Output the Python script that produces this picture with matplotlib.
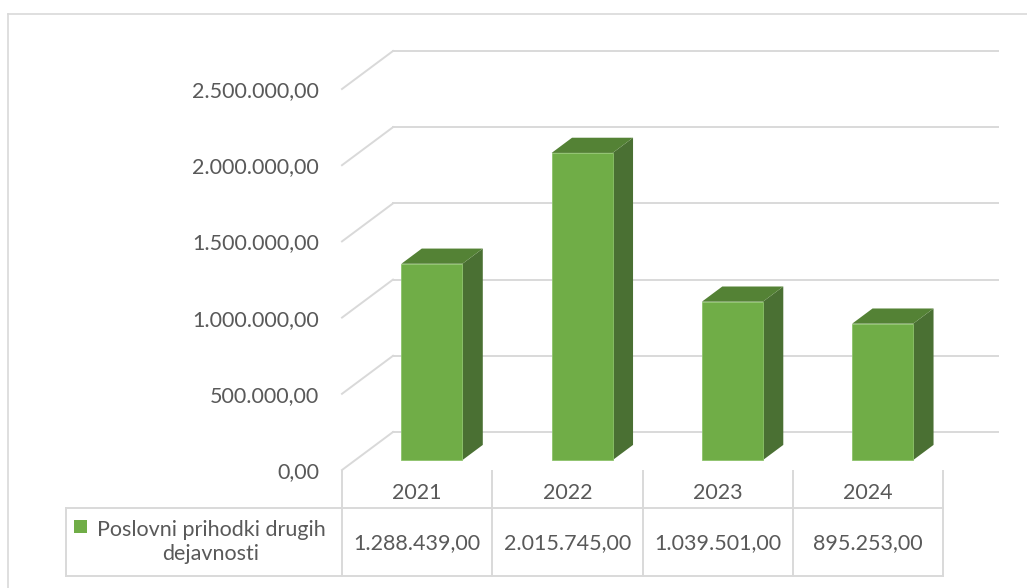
import matplotlib

matplotlib.use("Agg")
import matplotlib.pyplot as plt
import matplotlib.transforms as mtransforms
from matplotlib.patches import Polygon, Rectangle

years = ["2021", "2022", "2023", "2024"]
values = [1288439.00, 2015745.00, 1039501.00, 895253.00]
value_labels = ["1.288.439,00", "2.015.745,00", "1.039.501,00", "895.253,00"]
series_name = "Poslovni prihodki drugih\ndejavnosti"
yticks = [0, 500000, 1000000, 1500000, 2000000, 2500000]
ytick_labels = ["0,00", "500.000,00", "1.000.000,00", "1.500.000,00",
                "2.000.000,00", "2.500.000,00"]

W, H, DPI = 1027, 588, 100
GRID = "#d9d9d9"
TXT = "#595959"
C_FRONT = "#70ad47"
C_SIDE = "#4a7033"
C_TOP = "#548235"
DEPTH = (51, 38)          # floor depth in pixels (right, up)
BAR_T0, BAR_T1 = 0.26, 0.66
BAR_W = 0.406
FS = 15.5

plt.rcParams["font.family"] = ["Lato", "DejaVu Sans"]

fig = plt.figure(figsize=(W / DPI, H / DPI), dpi=DPI)
x0, x1, yb, yt = 342, 943, 470, 89
ax = fig.add_axes([x0 / W, (H - yb) / H, (x1 - x0) / W, (yb - yt) / H])
ax.set_xlim(-0.5, len(years) - 0.5)
ax.set_ylim(0, 2500000)
ax.patch.set_visible(False)
for s in ax.spines.values():
    s.set_visible(False)
ax.set_xticks([])
ax.set_yticks(yticks, ytick_labels)
ax.tick_params(axis="y", length=0, pad=16.5, labelsize=FS, labelcolor=TXT)

ident = mtransforms.IdentityTransform()
pix = mtransforms.Affine2D().scale(1, -1).translate(0, H)   # top-down pixels
xpix = mtransforms.blended_transform_factory(ax.transData, pix)


def P(x, y, t):
    px, py = ax.transData.transform((x, y))
    return (px + t * DEPTH[0], py + t * DEPTH[1])


# back wall gridlines + floor/side diagonals
xl, xr = -0.5, len(years) - 0.5
for v in yticks:
    a, b = P(xl, v, 0), P(xl, v, 1)
    c = P(xr, v, 1)
    fig.add_artist(plt.Line2D([b[0], c[0] + 4], [b[1], c[1]], color=GRID,
                              lw=1.4, transform=ident, zorder=1))
    fig.add_artist(plt.Line2D([a[0], b[0]], [a[1], b[1]], color=GRID,
                              lw=1.4, transform=ident, zorder=1))

# 3D columns
for i, v in enumerate(values):
    l, r = i - BAR_W / 2 + 0.01, i + BAR_W / 2 + 0.01
    side = [P(r, 0, BAR_T0), P(r, 0, BAR_T1), P(r, v, BAR_T1), P(r, v, BAR_T0)]
    top = [P(l, v, BAR_T0), P(r, v, BAR_T0), P(r, v, BAR_T1), P(l, v, BAR_T1)]
    front = [P(l, 0, BAR_T0), P(r, 0, BAR_T0), P(r, v, BAR_T0), P(l, v, BAR_T0)]
    fig.add_artist(Polygon(side, closed=True, fc=C_SIDE, ec="none",
                           transform=ident, zorder=3))
    fig.add_artist(Polygon(top, closed=True, fc=C_TOP, ec="none",
                           transform=ident, zorder=3))
    fig.add_artist(Polygon(front, closed=True, fc=C_FRONT, ec="#8cc36a",
                           lw=0.6, transform=ident, zorder=4))

# data table
for k in range(len(years) + 1):
    ax.plot([k - 0.5, k - 0.5], [471, 576], color=GRID, lw=1.4,
            transform=xpix, clip_on=False)
for yy in (508, 576):
    ax.plot([xl, xr], [yy, yy], color=GRID, lw=1.4, transform=xpix,
            clip_on=False)
    fig.add_artist(plt.Line2D([66, x0], [yy, yy], color=GRID, lw=1.4,
                              transform=pix))
fig.add_artist(plt.Line2D([66, 66], [508, 576], color=GRID, lw=1.4,
                          transform=pix))

for i, (yr, lab) in enumerate(zip(years, value_labels)):
    ax.text(i, 493, yr, transform=xpix, ha="center", va="center",
            fontsize=FS, color=TXT)
    ax.text(i, 543, lab, transform=xpix, ha="center", va="center",
            fontsize=FS, color=TXT)

fig.add_artist(Rectangle((74, 520), 13, 13, fc=C_FRONT, ec="none",
                         transform=pix))
fig.text(211, 542, series_name, transform=pix, ha="center", va="center",
         fontsize=FS, color=TXT, linespacing=1.3)

# chart area frame
fig.add_artist(plt.Line2D([8, 8], [14, H], color=GRID, lw=1.2, transform=pix))
fig.add_artist(plt.Line2D([8, W], [14, 14], color=GRID, lw=1.2, transform=pix))

fig.savefig("out.png", dpi=DPI, facecolor="white")
